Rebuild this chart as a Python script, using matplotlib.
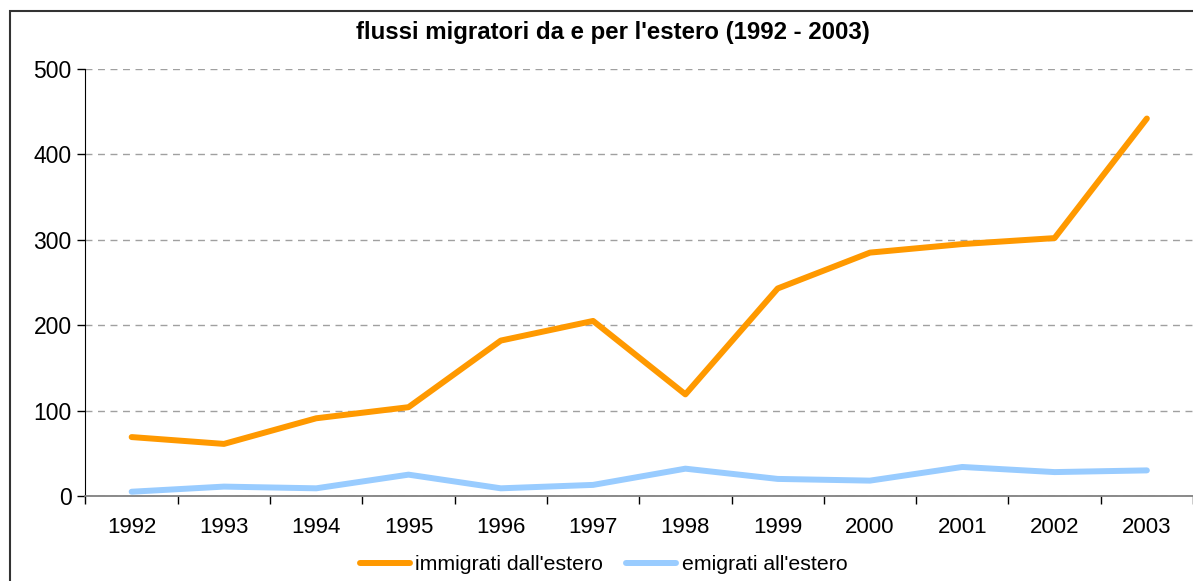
import numpy as np
import matplotlib
matplotlib.use('Agg')
import matplotlib.pyplot as plt
from matplotlib.patches import Rectangle

plt.rcParams['font.family'] = ['Liberation Sans', 'DejaVu Sans']

years = ['1992', '1993', '1994', '1995', '1996', '1997',
         '1998', '1999', '2000', '2001', '2002', '2003']
immigrati = [69, 61, 91, 104, 182, 205, 119, 243, 285, 295, 302, 442]
emigrati = [5, 11, 9, 25, 9, 13, 32, 20, 18, 34, 28, 30]
yticks = [0, 100, 200, 300, 400, 500]

W, H = 1193, 581
fig = plt.figure(figsize=(W/100, H/100), dpi=100)
# outer chart border (runs off the right and bottom edges)
fig.patches.append(Rectangle((10/W, -0.1), 1.2, 1.1 - 11/H,
                             transform=fig.transFigure, fill=False,
                             edgecolor='#333333', lw=1.5))

ax = fig.add_axes([85.5/W, 1 - 496/H, (1193 - 85.5)/W, (496 - 69)/H])
x = np.arange(len(years))
ax.plot(x, immigrati, color='#FF9900', lw=4.3, solid_capstyle='round',
        label="immigrati dall'estero", zorder=3)
ax.plot(x, emigrati, color='#99CCFF', lw=4.3, solid_capstyle='round',
        label="emigrati all'estero", zorder=3)

ax.set_xlim(-0.5, len(years) - 0.5)
ax.set_ylim(0, 500)
ax.set_yticks(yticks)
ax.set_xticks(np.arange(len(years) + 1) - 0.5, minor=False)
ax.set_xticklabels([])
ax.set_xticks(x, minor=True)
ax.set_xticklabels(years, minor=True)
ax.tick_params(axis='x', which='major', length=6, direction='out', width=1)
ax.tick_params(axis='x', which='minor', length=0, labelsize=16, pad=15)
ax.tick_params(axis='y', length=6, width=1, labelsize=16.5, pad=4)
ax.grid(axis='y', color='#A0A0A0', linestyle=(0, (5, 4)), lw=1)
ax.set_axisbelow(True)
for s in ['top', 'right']:
    ax.spines[s].set_visible(False)
ax.spines['bottom'].set_color('#808080')
ax.spines['bottom'].set_linewidth(1.3)
ax.spines['left'].set_color('black')

fig.text(0.514, 1 - 33/H, "flussi migratori da e per l'estero (1992 - 2003)",
         ha='center', va='center', fontsize=17.3, fontweight='bold')

fig.legend(loc='center', bbox_to_anchor=(0.506, 1 - 565/H), ncol=2,
           frameon=False, fontsize=15.3, handlelength=2.35, handletextpad=0.25,
           columnspacing=1.08)

fig.savefig('out.png', dpi=100)
